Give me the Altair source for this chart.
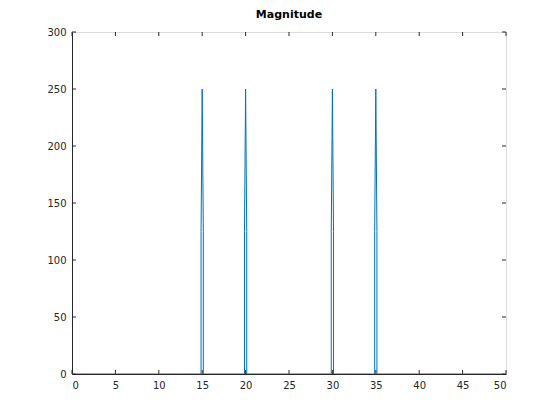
import altair as alt
import pandas as pd

# Magnitude spectrum samples (frequency, magnitude)
freq = [0, 14.87, 14.87, 15.0, 15.13, 15.13,
        19.87, 19.87, 20.0, 20.13, 20.13,
        29.87, 29.87, 30.0, 30.13, 30.13,
        34.87, 34.87, 35.0, 35.13, 35.13, 50]
mag = [0, 0, 125, 250, 125, 0,
       0, 125, 250, 125, 0,
       0, 125, 250, 125, 0,
       0, 125, 250, 125, 0, 0]

xticks = [0, 5, 10, 15, 20, 25, 30, 35, 40, 45, 50]
yticks = [0, 50, 100, 150, 200, 250, 300]

W, H = 434, 342
TICK = 4
AX = "#262626"

df = pd.DataFrame({"f": freq, "m": mag, "i": list(range(len(freq)))})
xs = alt.Scale(domain=[0, 50], nice=False)
ys = alt.Scale(domain=[0, 300], nice=False)

line = alt.Chart(df).mark_line(color="#0072BD", strokeWidth=1, clip=True).encode(
    x=alt.X("f:Q", scale=xs, title=None,
            axis=alt.Axis(values=xticks, ticks=False, grid=False, labelFontSize=10,
                          labelColor=AX, domainColor=AX, labelPadding=6, labelFont="DejaVu Sans")),
    y=alt.Y("m:Q", scale=ys, title=None,
            axis=alt.Axis(values=yticks, ticks=False, grid=False, labelFontSize=10,
                          labelColor=AX, domainColor=AX, labelPadding=6, labelFont="DejaVu Sans")),
    order="i:Q",
)

xt = pd.DataFrame({"t": xticks})
yt = pd.DataFrame({"t": yticks})
xb = alt.Chart(xt).mark_rule(color=AX, strokeWidth=1).encode(
    x=alt.X("t:Q", scale=xs), y=alt.value(H), y2=alt.value(H - TICK))
xtop = alt.Chart(xt).mark_rule(color=AX, strokeWidth=1).encode(
    x=alt.X("t:Q", scale=xs), y=alt.value(0), y2=alt.value(TICK))
yl = alt.Chart(yt).mark_rule(color=AX, strokeWidth=1).encode(
    y=alt.Y("t:Q", scale=ys), x=alt.value(0), x2=alt.value(TICK))
yr = alt.Chart(yt).mark_rule(color=AX, strokeWidth=1).encode(
    y=alt.Y("t:Q", scale=ys), x=alt.value(W), x2=alt.value(W - TICK))

chart = alt.layer(xb, xtop, yl, yr, line).properties(
    width=W, height=H,
    title=alt.Title("Magnitude", fontSize=11, fontWeight="bold", color="black",
                    font="DejaVu Sans", offset=7),
    autosize=alt.AutoSizeParams(type="none"),
    padding={"left": 64, "top": 24, "right": 45, "bottom": 40},
).configure_view(stroke=AX, strokeWidth=1).configure(background="white")

chart.save("out.html", embed_options={"renderer": "svg", "actions": False})
